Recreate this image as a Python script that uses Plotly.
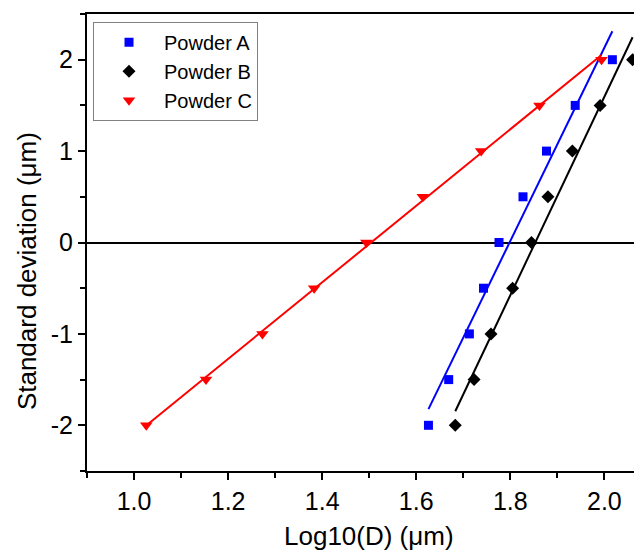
import numpy as np
import plotly.graph_objects as go

# Probit levels (standard deviations) shared by all three powders
sigma = [-2.0, -1.5, -1.0, -0.5, 0.0, 0.5, 1.0, 1.5, 2.0]

# log10 of particle diameter at each probit level
logd_a = [1.626, 1.669, 1.713, 1.743, 1.776, 1.827, 1.877, 1.938, 2.017]
logd_b = [1.683, 1.723, 1.759, 1.805, 1.845, 1.880, 1.932, 1.991, 2.060]
logd_c = [1.026, 1.153, 1.273, 1.383, 1.494, 1.614, 1.738, 1.862, 1.994]

x_tick_vals = [1.0, 1.2, 1.4, 1.6, 1.8, 2.0]
x_tick_text = ["1.0", "1.2", "1.4", "1.6", "1.8", "2.0"]
y_tick_vals = [-2, -1, 0, 1, 2]
y_tick_text = ["-2", "-1", "0", "1", "2"]

FONT = "Liberation Sans, Arial, sans-serif"

series = [
    ("Powder A", logd_a, "#0000ff", "square", 9),
    ("Powder B", logd_b, "#000000", "diamond", 10),
    ("Powder C", logd_c, "#ff0000", "triangle-down", 11),
]

fig = go.Figure()

# least-squares lines over each powder's own range
for name, xs, color, sym, size in series:
    k, b = np.polyfit(xs, sigma, 1)
    xl = np.array([min(xs), max(xs)])
    fig.add_trace(go.Scatter(
        x=xl, y=k * xl + b, mode="lines",
        line=dict(color=color, width=2), showlegend=False, hoverinfo="skip",
    ))

for name, xs, color, sym, size in series:
    fig.add_trace(go.Scatter(
        x=xs, y=sigma, mode="markers", name=name,
        marker=dict(symbol=sym, size=size, color=color, line=dict(width=0)),
    ))

axis_common = dict(
    showgrid=False, showline=True, linecolor="black", linewidth=2,
    ticks="outside", tickcolor="black", tickwidth=2, ticklen=7,
    tickfont=dict(family=FONT, size=25, color="black"),
)

fig.update_xaxes(
    **axis_common, range=[0.9, 2.063], mirror=True, zeroline=False,
    tickmode="array", tickvals=x_tick_vals, ticktext=x_tick_text,
    minor=dict(ticks="outside", dtick=0.1, tick0=0, ticklen=5,
               tickcolor="black", tickwidth=1.5),
)
fig.update_yaxes(
    **axis_common, range=[-2.5, 2.5], mirror=False,
    zeroline=True, zerolinecolor="black", zerolinewidth=2,
    tickmode="array", tickvals=y_tick_vals, ticktext=y_tick_text,
    minor=dict(ticks="outside", dtick=0.5, tick0=0, ticklen=5,
               tickcolor="black", tickwidth=1.5),
)

fig.add_annotation(
    text="Log10(D) (μm)", x=1.5, xref="x", y=-0.143, yref="paper",
    yanchor="middle", showarrow=False,
    font=dict(family=FONT, size=26, color="black"),
)
fig.add_annotation(
    text="Standard deviation (μm)", x=-0.11, xref="paper", y=0.437, yref="paper",
    xanchor="center", yanchor="middle", textangle=-90, showarrow=False,
    font=dict(family=FONT, size=26, color="black"),
)

fig.update_layout(
    width=634, height=554,
    margin=dict(l=87, r=0, t=14, b=83),
    paper_bgcolor="white", plot_bgcolor="white",
    font=dict(family=FONT, color="black"),
    legend=dict(
        x=0.011, y=0.983, xanchor="left", yanchor="top",
        bgcolor="white", bordercolor="#808080", borderwidth=1,
        font=dict(family=FONT, size=20, color="black"),
        tracegroupgap=0, itemwidth=60,
    ),
)

fig.write_html("out.html")
